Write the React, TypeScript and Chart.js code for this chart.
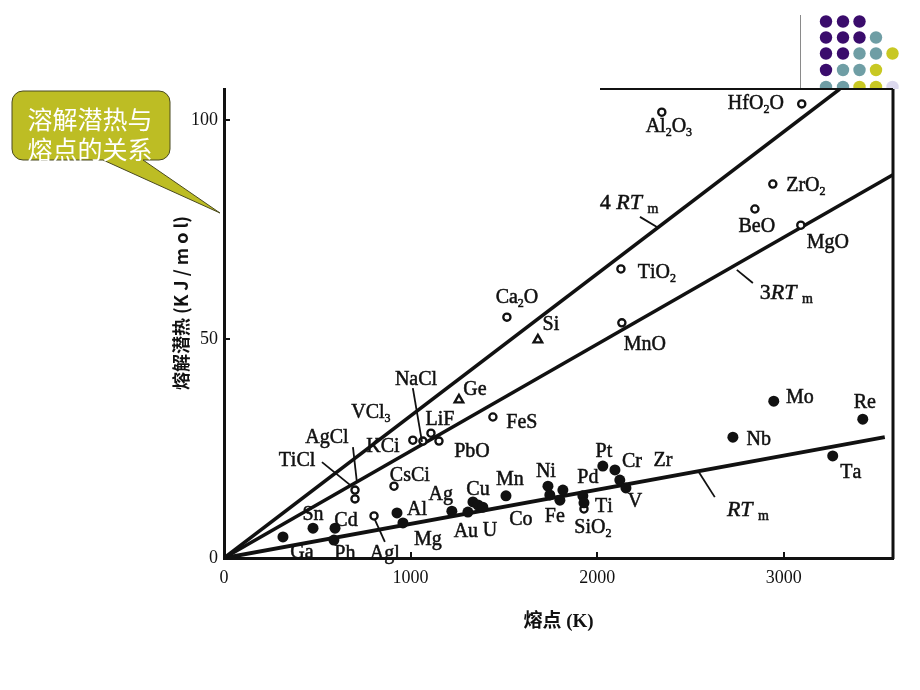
import React, { useEffect, useRef } from 'react';
import { Chart, registerables } from 'chart.js';
Chart.register(...registerables);

// ---------- data ----------
const xTicks = [0, 1000, 2000, 3000];
const yTicks = [0, 50, 100];

// open circles (compounds)
const compoundT = [2346, 3096, 2941, 2845, 3091, 2127, 1516, 2132, 1441, 1012, 1066, 1109, 1152, 911, 702, 702, 804, 1929];
const compoundH = [101.8, 103.7, 85.4, 79.7, 76.0, 66.0, 55.0, 53.7, 32.2, 26.9, 26.7, 28.5, 26.7, 16.4, 15.5, 13.5, 9.6, 11.2];
// open triangles (Si, Ge)
const semiT = [1682, 1259];
const semiH = [49.8, 36.1];
// filled circles (metals)
const metalT = [316, 477, 595, 589, 927, 959, 1221, 1307, 1334, 1361, 1387, 1511, 1736, 1746, 1816, 1800, 2030, 1923, 1929, 2095, 2121, 2154, 2727, 2946, 3423, 3262];
const metalH = [4.8, 6.8, 6.8, 4.1, 10.3, 8.0, 10.7, 10.5, 12.8, 12.1, 11.6, 14.2, 16.4, 14.4, 15.5, 13.2, 21.0, 14.2, 12.6, 20.1, 17.8, 16.0, 27.6, 35.8, 31.7, 23.3];

// reference lines nRTm (end points)
const line4RT = [[0, 0], [3300, 107.1]];
const line3RT = [[0, 0], [3585, 87.5]];
const line1RT = [[0, 0], [3541, 27.6]];

// point labels: text, T, H  ('_' = subscript next char)
const pointLabels: [string, number, number][] = [
  ['HfO_2O', 2850, 103.7], ['Al_2O_3', 2384, 98.4], ['ZrO_2', 3118, 84.9], ['BeO', 2855, 75.6],
  ['MgO', 3236, 72.1], ['TiO_2', 2320, 65.1], ['MnO', 2255, 48.6], ['Ca_2O', 1570, 59.4],
  ['Si', 1752, 53.2], ['Ge', 1345, 38.4], ['FeS', 1596, 30.8], ['NaCl', 1029, 40.6],
  ['VCl_3', 787, 33.1], ['LiF', 1157, 31.5], ['KCi', 852, 25.3], ['PbO', 1329, 24.2],
  ['AgCl', 552, 27.4], ['TiCl', 391, 22.1], ['CsCi', 996, 18.7], ['Sn', 477, 9.8],
  ['Cd', 654, 8.6], ['Al', 1034, 11.0], ['Ag', 1162, 14.4], ['Cu', 1361, 15.5],
  ['Mn', 1532, 17.8], ['Ni', 1725, 19.6], ['Pt', 2036, 24.2], ['Cr', 2186, 21.9],
  ['Zr', 2352, 22.1], ['Pd', 1950, 18.3], ['Ti', 2036, 11.6], ['V', 2202, 12.8],
  ['Fe', 1773, 9.4], ['Co', 1591, 8.7], ['SiO_2', 1977, 6.8], ['Au', 1296, 5.9],
  ['U', 1425, 6.2], ['Mg', 1093, 4.1], ['Ga', 418, 1.1], ['Ph', 648, 0.9],
  ['Agl', 862, 0.9], ['Mo', 3086, 36.5], ['Re', 3434, 35.4], ['Nb', 2866, 26.9],
  ['Ta', 3359, 19.4],
];
// line labels ('*' toggles italic)
const lineLabels: [string, number, number][] = [
  ['4 *RT* _m', 2014, 81.1],
  ['3*RT* _m', 2871, 60.5],
  ['*RT* _m', 2695, 11.0],
];
// leader strokes: T1, H1, T2, H2
const leaders: [number, number, number, number][] = [
  [2229, 77.9, 2320, 75.6],
  [2748, 65.8, 2834, 62.8],
  [2630, 13.9, 2545, 19.6],
  [1012, 38.8, 1061, 26.5],
  [691, 25.3, 712, 17.4],
  [525, 21.9, 675, 16.7],
  [809, 8.7, 862, 3.7],
];

const yTitle = '熔解潜热 (K J / m o l)';
const xTitle = '熔点 (K)';
const calloutLines = ['溶解潜热与', '熔点的关系'];
const dotRows = [
  ['P', 'P', 'P'],
  ['P', 'P', 'P', 'T'],
  ['P', 'P', 'T', 'T', 'Y'],
  ['P', 'T', 'T', 'Y'],
  ['T', 'T', 'Y', 'Y', 'L'],
];

const INK = '#111';
const SERIF = '"Liberation Serif", "Times New Roman", serif';

function toXY(ts: number[], hs: number[]) {
  return ts.map((t, i) => ({ x: t, y: hs[i] }));
}
function pairs(p: number[][]) {
  return p.map(([x, y]) => ({ x, y }));
}

function drawRich(ctx: CanvasRenderingContext2D, text: string, x: number, y: number, size: number, align: 'center' | 'left') {
  const segs: { t: string; sub: boolean; it: boolean }[] = [];
  let it = false;
  for (let i = 0; i < text.length; i++) {
    const c = text[i];
    if (c === '*') { it = !it; continue; }
    if (c === '_') { segs.push({ t: text[i + 1], sub: true, it }); i++; continue; }
    segs.push({ t: c, sub: false, it });
  }
  const fontFor = (s: { sub: boolean; it: boolean }) =>
    `${s.it ? 'italic ' : ''}${s.sub ? Math.round(size * 0.62) : size}px ${SERIF}`;
  let w = 0;
  for (const s of segs) { ctx.font = fontFor(s); w += ctx.measureText(s.t).width; }
  let cx = align === 'center' ? x - w / 2 : x;
  ctx.textBaseline = 'middle';
  ctx.textAlign = 'left';
  ctx.lineWidth = 0.5;
  ctx.strokeStyle = INK;
  for (const s of segs) {
    ctx.font = fontFor(s);
    const yy = s.sub ? y + size * 0.3 : y;
    ctx.fillText(s.t, cx, yy);
    ctx.strokeText(s.t, cx, yy);
    cx += ctx.measureText(s.t).width;
  }
}

const decorPlugin = {
  id: 'decor',
  beforeDraw(chart: any) {
    const ctx: CanvasRenderingContext2D = chart.ctx;
    ctx.save();
    ctx.fillStyle = '#fff';
    ctx.fillRect(0, 0, chart.width, chart.height);
    // slide decoration: dots clipped above the chart picture
    ctx.beginPath();
    ctx.rect(0, 0, chart.width, 89);
    ctx.clip();
    const colors: Record<string, string> = { P: '#3a0c6c', T: '#6f9ea5', Y: '#c8c823', L: '#dcd9ee' };
    const rowY = [21.5, 37.5, 53.5, 70, 87];
    const colX = [826, 843, 859.5, 876, 892.5];
    dotRows.forEach((row, r) => row.forEach((c, k) => {
      ctx.beginPath();
      ctx.fillStyle = colors[c];
      ctx.arc(colX[k], rowY[r], 6.2, 0, Math.PI * 2);
      ctx.fill();
    }));
    ctx.strokeStyle = '#8a8a8a';
    ctx.lineWidth = 1;
    ctx.beginPath();
    ctx.moveTo(800.5, 15);
    ctx.lineTo(800.5, 89);
    ctx.stroke();
    ctx.restore();
  },
  afterDraw(chart: any) {
    const ctx: CanvasRenderingContext2D = chart.ctx;
    const xs = chart.scales.x;
    const ys = chart.scales.y;
    const ca = chart.chartArea;
    const px = (v: number) => xs.getPixelForValue(v);
    const py = (v: number) => ys.getPixelForValue(v);
    ctx.save();
    // frame: right and top border pieces
    ctx.strokeStyle = INK;
    ctx.lineWidth = 3;
    ctx.beginPath();
    ctx.moveTo(ca.right, ca.top);
    ctx.lineTo(ca.right, ca.bottom + 1);
    ctx.stroke();
    ctx.lineWidth = 2;
    ctx.beginPath();
    ctx.moveTo(600, ca.top);
    ctx.lineTo(ca.right, ca.top);
    ctx.stroke();
    // leaders
    ctx.lineWidth = 1.8;
    leaders.forEach(([a, b, c, d]) => {
      ctx.beginPath();
      ctx.moveTo(px(a), py(b));
      ctx.lineTo(px(c), py(d));
      ctx.stroke();
    });
    // labels
    ctx.fillStyle = INK;
    pointLabels.forEach(([t, x, y]) => drawRich(ctx, t, px(x), py(y), 20, 'center'));
    lineLabels.forEach(([t, x, y]) => drawRich(ctx, t, px(x), py(y), 22, 'left'));
    // y axis title
    ctx.save();
    ctx.translate(181, 303);
    ctx.rotate(-Math.PI / 2);
    ctx.fillStyle = INK;
    ctx.font = 'bold 18px "Noto Sans CJK SC", sans-serif';
    ctx.textAlign = 'center';
    ctx.textBaseline = 'middle';
    ctx.fillText(yTitle, 0, 0);
    ctx.restore();
    // callout
    const L = 12, T = 91, R = 170, B = 160, r = 11;
    ctx.beginPath();
    ctx.moveTo(L + r, T);
    ctx.lineTo(R - r, T);
    ctx.arcTo(R, T, R, T + r, r);
    ctx.lineTo(R, B - r);
    ctx.arcTo(R, B, R - r, B, r);
    ctx.lineTo(143, B);
    ctx.lineTo(220, 213);
    ctx.lineTo(103, B);
    ctx.lineTo(L + r, B);
    ctx.arcTo(L, B, L, B - r, r);
    ctx.lineTo(L, T + r);
    ctx.arcTo(L, T, L + r, T, r);
    ctx.closePath();
    ctx.fillStyle = '#bdbd24';
    ctx.fill();
    ctx.strokeStyle = '#4a4a20';
    ctx.lineWidth = 1;
    ctx.stroke();
    ctx.fillStyle = '#fff';
    ctx.font = '25px "Noto Sans CJK SC", sans-serif';
    ctx.textAlign = 'center';
    ctx.textBaseline = 'middle';
    calloutLines.forEach((s, i) => ctx.fillText(s, 90, 119 + i * 30));
    ctx.restore();
  },
};

export default function App() {
  const ref = useRef<HTMLCanvasElement | null>(null);
  useEffect(() => {
    if (!ref.current) return;
    const chart = new Chart(ref.current, {
      type: 'scatter',
      data: {
        datasets: [
          {
            label: 'metals', data: toXY(metalT, metalH), pointStyle: 'circle', pointRadius: 5.5,
            pointBackgroundColor: INK, pointBorderWidth: 0, order: 0,
          },
          {
            label: 'compounds', data: toXY(compoundT, compoundH), pointStyle: 'circle', pointRadius: 3.6,
            pointBackgroundColor: '#fff', pointBorderColor: INK, pointBorderWidth: 2.3, order: 0,
          },
          {
            label: 'semis', data: toXY(semiT, semiH), pointStyle: 'triangle', pointRadius: 5,
            pointBackgroundColor: '#fff', pointBorderColor: INK, pointBorderWidth: 2.3, order: 0,
          },
          { label: '4RT', data: pairs(line4RT), showLine: true, pointRadius: 0, borderColor: INK, borderWidth: 3.5, order: 1 },
          { label: '3RT', data: pairs(line3RT), showLine: true, pointRadius: 0, borderColor: INK, borderWidth: 3.5, order: 1 },
          { label: 'RT', data: pairs(line1RT), showLine: true, pointRadius: 0, borderColor: INK, borderWidth: 4, order: 1 },
        ] as any,
      },
      options: {
        animation: false,
        responsive: false,
        devicePixelRatio: 1,
        layout: { padding: { left: 170, right: 27, top: 89, bottom: 57 } },
        plugins: { legend: { display: false }, tooltip: { enabled: false } },
        scales: {
          x: {
            type: 'linear', min: 0, max: 3585,
            afterFit: (s: any) => { s.height = 75; },
            afterBuildTicks: (s: any) => { s.ticks = xTicks.map((v) => ({ value: v })); },
            grid: { display: true, drawOnChartArea: false, drawTicks: true, tickLength: -6, color: INK, lineWidth: 2 },
            border: { display: true, color: INK, width: 3 },
            ticks: {
              font: { family: SERIF, size: 18 }, color: INK, padding: 15, maxRotation: 0, autoSkip: false,
              callback: (v: any) => String(v),
            },
            title: {
              display: true, text: xTitle, color: INK, padding: 0,
              font: { family: '"Liberation Serif", "Noto Sans CJK SC", serif', size: 19, weight: 'bold' },
            },
          },
          y: {
            type: 'linear', min: 0, max: 107.1,
            afterFit: (s: any) => { s.width = 54; },
            afterBuildTicks: (s: any) => { s.ticks = yTicks.map((v) => ({ value: v })); },
            grid: { display: true, drawOnChartArea: false, drawTicks: true, tickLength: -6, color: INK, lineWidth: 2 },
            border: { display: true, color: INK, width: 3 },
            ticks: {
              font: { family: SERIF, size: 18 }, color: INK, padding: 12, autoSkip: false,
              callback: (v: any) => String(v),
            },
            title: { display: false },
          },
        },
      } as any,
      plugins: [decorPlugin],
    });
    return () => chart.destroy();
  }, []);
  return (
    <div style={{ position: 'fixed', left: 0, top: 0, width: 920, height: 690, background: '#fff' }}>
      <canvas ref={ref} width={920} height={690} style={{ width: 920, height: 690, display: 'block' }} />
    </div>
  );
}
